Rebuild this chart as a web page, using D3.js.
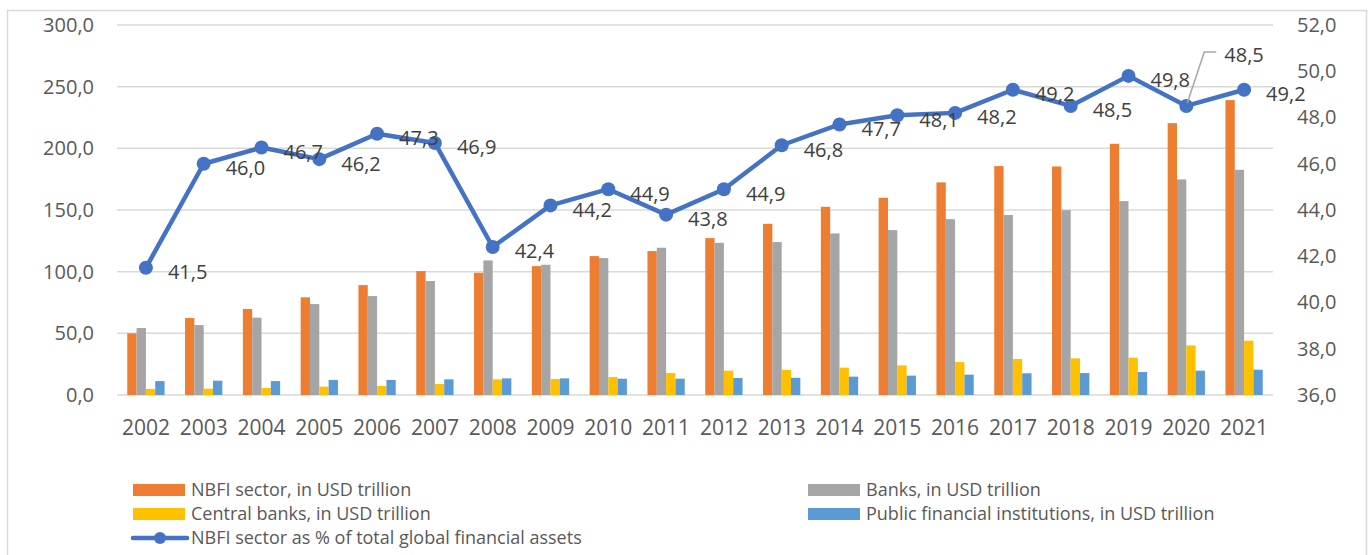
<!DOCTYPE html>
<html>
<head>
<meta charset="utf-8">
<script src="https://cdn.jsdelivr.net/npm/d3@7"></script>
<style>
  body { margin: 0; background: #fff; }
  svg { display: block; font-family: "Open Sans", sans-serif; }
</style>
</head>
<body>
<div id="chart"></div>
<script>
var width = 1370
var height = 555

var years = ["2002","2003","2004","2005","2006","2007","2008","2009","2010","2011",
             "2012","2013","2014","2015","2016","2017","2018","2019","2020","2021"]
var nbfi = [50.0, 62.4, 69.7, 79.2, 89.1, 100.5, 99.1, 104.5, 112.6, 116.7,
            127.2, 138.8, 152.6, 159.9, 172.4, 185.6, 185.3, 203.7, 220.4, 239.1]
var banks = [54.3, 56.7, 62.7, 73.7, 80.2, 92.4, 109.1, 105.6, 111.0, 119.4,
             123.4, 124.0, 131.0, 133.7, 142.6, 145.9, 149.9, 157.2, 174.8, 182.6]
var centralBanks = [4.9, 5.1, 5.7, 6.8, 7.3, 8.9, 12.7, 13.0, 14.6, 17.8,
                    19.7, 20.3, 22.2, 24.0, 26.7, 29.2, 29.7, 30.3, 40.2, 44.0]
var publicFin = [11.3, 11.6, 11.3, 12.2, 12.2, 12.7, 13.5, 13.5, 13.2, 13.2,
                 13.8, 14.0, 14.9, 15.7, 16.5, 17.6, 17.8, 18.6, 19.7, 20.5]
var nbfiShare = [41.5, 46.0, 46.7, 46.2, 47.3, 46.9, 42.4, 44.2, 44.9, 43.8,
                 44.9, 46.8, 47.7, 48.1, 48.2, 49.2, 48.5, 49.8, 48.5, 49.2]
var leftTicks = [0, 50, 100, 150, 200, 250, 300]
var rightTicks = [36, 38, 40, 42, 44, 46, 48, 50, 52]

var barSeries = [
  { name: "NBFI sector, in USD trillion", values: nbfi, color: "#ED7D31" },
  { name: "Banks, in USD trillion", values: banks, color: "#A5A5A5" },
  { name: "Central banks, in USD trillion", values: centralBanks, color: "#FFC000" },
  { name: "Public financial institutions, in USD trillion", values: publicFin, color: "#5B9BD5" }
]
var lineName = "NBFI sector as % of total global financial assets"
var lineColor = "#4472C4"

var fmt = function(v){ return d3.format(".1f")(v).replace(".", ",") }

var svg = d3.select("#chart").append("svg").attr("width", width).attr("height", height)

// outer frame
svg.append("rect").attr("x", 7.5).attr("y", 10.5).attr("width", 1359).attr("height", 560)
   .attr("fill", "#fff").attr("stroke", "#d9d9d9").attr("stroke-width", 1.5)

var plotL = 117, plotR = 1273, plotT = 25, plotB = 395

var x0 = d3.scaleBand().domain(years).range([plotL, plotR]).padding(0)
var x1 = d3.scaleBand().domain(d3.range(barSeries.length)).range([0, x0.bandwidth()])
           .paddingInner(0).paddingOuter(1.1)
var yL = d3.scaleLinear().domain([0, 300]).range([plotB, plotT])
var yR = d3.scaleLinear().domain([36, 52]).range([plotB, plotT])

// gridlines
svg.append("g").selectAll("line").data(leftTicks).enter().append("line")
   .attr("x1", plotL).attr("x2", plotR)
   .attr("y1", function(d){ return yL(d) }).attr("y2", function(d){ return yL(d) })
   .attr("stroke", "#d9d9d9").attr("stroke-width", 1.5)

// left axis
var axL = svg.append("g").attr("transform", "translate(" + 104 + ",0)")
   .call(d3.axisLeft(yL).tickValues(leftTicks).tickSize(0).tickPadding(10).tickFormat(fmt))
axL.select(".domain").remove()
axL.selectAll("text").attr("font-size", 20).attr("fill", "#595959").attr("font-family", "Open Sans")

// right axis
var axR = svg.append("g").attr("transform", "translate(" + 1287 + ",0)")
   .call(d3.axisRight(yR).tickValues(rightTicks).tickSize(0).tickPadding(10).tickFormat(fmt))
axR.select(".domain").remove()
axR.selectAll("text").attr("font-size", 20).attr("fill", "#595959").attr("font-family", "Open Sans")

// x axis labels
var axX = svg.append("g").attr("transform", "translate(0," + plotB + ")")
   .call(d3.axisBottom(x0).tickSize(0).tickPadding(25))
axX.select(".domain").remove()
axX.selectAll("text").attr("font-size", 21).attr("fill", "#595959").attr("font-family", "Open Sans")

// bars
var groups = svg.append("g").selectAll("g").data(years).enter().append("g")
   .attr("transform", function(d){ return "translate(" + x0(d) + ",0)" })
groups.selectAll("rect")
   .data(function(d, i){ return barSeries.map(function(s, k){ return { k: k, v: s.values[i], color: s.color } }) })
   .enter().append("rect")
   .attr("x", function(d){ return x1(d.k) })
   .attr("width", x1.bandwidth())
   .attr("y", function(d){ return yL(d.v) })
   .attr("height", function(d){ return plotB - yL(d.v) })
   .attr("fill", function(d){ return d.color })

// line
var cx = function(d, i){ return x0(years[i]) + x0.bandwidth() / 2 }
var line = d3.line().x(cx).y(function(d){ return yR(d) })
svg.append("path").datum(nbfiShare).attr("d", line)
   .attr("fill", "none").attr("stroke", lineColor).attr("stroke-width", 4.5).attr("stroke-linejoin", "round")
svg.append("g").selectAll("circle").data(nbfiShare).enter().append("circle")
   .attr("cx", cx).attr("cy", function(d){ return yR(d) }).attr("r", 7).attr("fill", lineColor)

// data labels
var labels = svg.append("g").selectAll("text").data(nbfiShare).enter().append("text")
   .attr("font-size", 20).attr("fill", "#404040").attr("font-family", "Open Sans")
   .attr("dy", "0.42em")
   .text(fmt)
labels.each(function(d, i){
  var px = cx(d, i), py = yR(d)
  var t = d3.select(this)
  if (years[i] === "2020") {
    t.attr("x", px + 38).attr("y", py - 52)
    svg.append("path")
       .attr("d", "M" + (px + 1) + "," + (py - 3) + "L" + (px + 18) + "," + (py - 54) + "L" + (px + 30) + "," + (py - 54))
       .attr("fill", "none").attr("stroke", "#a6a6a6").attr("stroke-width", 1.5)
  } else {
    t.attr("x", px + 22).attr("y", py + 3)
  }
})

// legend
var legendItems = [
  { name: barSeries[0].name, color: barSeries[0].color, x: 133, y: 490, type: "bar" },
  { name: barSeries[1].name, color: barSeries[1].color, x: 808, y: 490, type: "bar" },
  { name: barSeries[2].name, color: barSeries[2].color, x: 133, y: 514, type: "bar" },
  { name: barSeries[3].name, color: barSeries[3].color, x: 808, y: 514, type: "bar" },
  { name: lineName, color: lineColor, x: 133, y: 538, type: "line" }
]
var leg = svg.append("g").selectAll("g").data(legendItems).enter().append("g")
   .attr("transform", function(d){ return "translate(" + d.x + "," + d.y + ")" })
leg.filter(function(d){ return d.type === "bar" }).append("rect")
   .attr("x", 0).attr("y", -6).attr("width", 52).attr("height", 12).attr("fill", function(d){ return d.color })
leg.filter(function(d){ return d.type === "line" }).append("line")
   .attr("x1", 0).attr("x2", 54).attr("y1", 0).attr("y2", 0)
   .attr("stroke", function(d){ return d.color }).attr("stroke-width", 4.5).attr("stroke-linecap", "round")
leg.filter(function(d){ return d.type === "line" }).append("circle")
   .attr("cx", 27).attr("cy", 0).attr("r", 6).attr("fill", function(d){ return d.color })
leg.append("text").attr("x", 58).attr("dy", "0.36em")
   .attr("font-size", 18).attr("fill", "#595959").attr("font-family", "Open Sans")
   .text(function(d){ return d.name })
</script>
</body>
</html>
